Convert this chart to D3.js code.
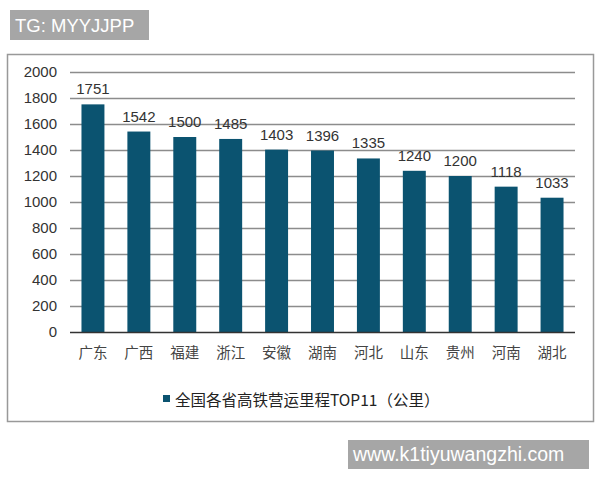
<!DOCTYPE html>
<html><head><meta charset="utf-8">
<script src="https://cdn.jsdelivr.net/npm/d3@7"></script>
<style>body{margin:0;background:#fff}</style>
</head><body>
<svg id="c" width="600" height="480"></svg>
<script>
const provinces = ["广东","广西","福建","浙江","安徽","湖南","河北","山东","贵州","河南","湖北"];
const mileage = [1751,1542,1500,1485,1403,1396,1335,1240,1200,1118,1033];
const yTicks = [0,200,400,600,800,1000,1200,1400,1600,1800,2000];
const legendLabel = "全国各省高铁营运里程TOP11（公里）";
const watermark1 = "TG: MYYJJPP";
const watermark2 = "www.k1tiyuwangzhi.com";

const svg = d3.select("#c");
const barColor = "#0b5370";
// frame
svg.append("rect").attr("x",7.5).attr("y",54.5).attr("width",586).attr("height",367)
  .attr("fill","#fff").attr("stroke","#999").attr("stroke-width",1.5);

const x = d3.scaleBand().domain(provinces).range([70,575]).paddingInner(0.5).paddingOuter(0.25);
const y = d3.scaleLinear().domain([0,2000]).range([332,72]);

// gridlines
svg.append("g").selectAll("line").data(yTicks.filter(d=>d>0)).join("line")
  .attr("x1",70).attr("x2",575).attr("y1",d=>y(d)+0.5).attr("y2",d=>y(d)+0.5)
  .attr("stroke","#8c8c8c").attr("stroke-width",1.5);

const yAxis = d3.axisLeft(y).tickValues(yTicks).tickFormat(d3.format("d")).tickSize(0).tickPadding(13);
const gy = svg.append("g").attr("transform","translate(70,0)").call(yAxis);
gy.select(".domain").remove();
gy.selectAll("text").attr("font-family","Liberation Sans, Arial, sans-serif").attr("font-size",15).attr("fill","#333");

// bars
svg.append("g").selectAll("rect").data(mileage).join("rect")
  .attr("x",(d,i)=>x(provinces[i])).attr("width",x.bandwidth())
  .attr("y",d=>y(d)).attr("height",d=>y(0)-y(d)).attr("fill",barColor);

// value labels
svg.append("g").selectAll("text").data(mileage).join("text")
  .attr("x",(d,i)=>x(provinces[i])+x.bandwidth()/2).attr("y",d=>y(d)-10)
  .attr("text-anchor","middle").attr("font-family","Liberation Sans, Arial, sans-serif")
  .attr("font-size",15).attr("fill","#333").text(d=>d);

// x axis line
svg.append("line").attr("x1",70).attr("x2",575).attr("y1",y(0)+0.5).attr("y2",y(0)+0.5)
  .attr("stroke","#333").attr("stroke-width",1.5);

const xAxis = d3.axisBottom(x).tickSize(0).tickPadding(16);
const gx = svg.append("g").attr("transform",`translate(0,${y(0)})`).call(xAxis);
gx.select(".domain").remove();
gx.selectAll("text").attr("font-family","Noto Sans CJK SC, sans-serif").attr("font-size",14.5).attr("fill","#444");

// legend
svg.append("rect").attr("x",163).attr("y",395).attr("width",7).attr("height",7).attr("fill",barColor);
svg.append("text").attr("x",175).attr("y",406).attr("font-family","Noto Sans CJK SC, sans-serif")
  .attr("font-size",15.5).attr("fill","#222").text(legendLabel);

// watermarks
svg.append("rect").attr("x",10).attr("y",10).attr("width",139).attr("height",30).attr("fill","#a6a6a6");
svg.append("text").attr("x",15).attr("y",32).attr("font-family","Liberation Sans, Arial, sans-serif")
  .attr("font-size",18.5).attr("fill","#fff").text(watermark1);
svg.append("rect").attr("x",348).attr("y",440).attr("width",241).attr("height",29).attr("fill","#a6a6a6");
svg.append("text").attr("x",353).attr("y",461).attr("font-family","Liberation Sans, Arial, sans-serif")
  .attr("font-size",19.5).attr("fill","#fff").text(watermark2);
</script>
</body></html>
